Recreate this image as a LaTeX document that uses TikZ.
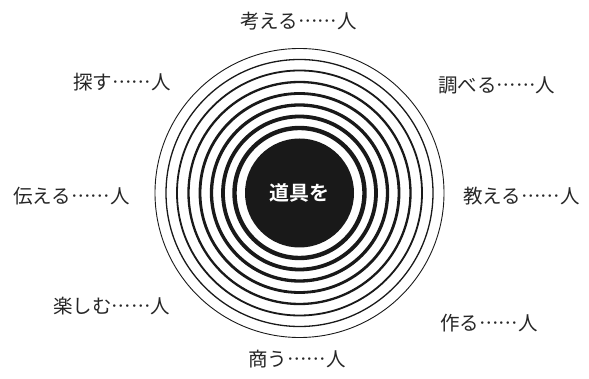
\documentclass[tikz,border=0pt]{standalone}
\usepackage{fontspec}
\newfontfamily\jpfont[Script=CJK,Language=Japanese,RawFeature=+fwid]{Noto Sans CJK JP}
\newfontfamily\jpbold{Noto Sans CJK JP Bold}
\begin{document}
\begin{tikzpicture}[x=1pt,y=-1pt,
  lbl/.style={inner sep=0pt,font=\jpfont\fontsize{19.5}{20}\selectfont,text=black!85},
  ring/.style={draw=black!90,fill=none}]
\useasboundingbox (0,0) rectangle (589,379);
\coordinate (c) at (299.5,193);
\foreach \r/\w in {144.5/0.9,133.5/1.3,122.5/1.8,111/2.3,99.5/2.8,88/3.3,76.5/3.8,65/4.4}{
  \draw[ring,line width=\w pt] (c) circle[radius=\r];
}
\fill[black!90] (c) circle[radius=54.5];
\node[inner sep=0pt,font=\jpbold\fontsize{20}{20}\selectfont,text=white] (center) at (c) {道具を};
\node[lbl,anchor=west] (kangaeru) at (240,21) {考える……人};
\node[lbl,anchor=west] (sagasu) at (73,82) {探す……人};
\node[lbl,anchor=west] (shiraberu) at (438,85) {調べる……人};
\node[lbl,anchor=west] (tsutaeru) at (13,196) {伝える……人};
\node[lbl,anchor=west] (oshieru) at (463,196) {教える……人};
\node[lbl,anchor=west] (tanoshimu) at (53,306) {楽しむ……人};
\node[lbl,anchor=west] (tsukuru) at (440,323) {作る……人};
\node[lbl,anchor=west] (akinau) at (248,359) {商う……人};
\end{tikzpicture}
\end{document}
